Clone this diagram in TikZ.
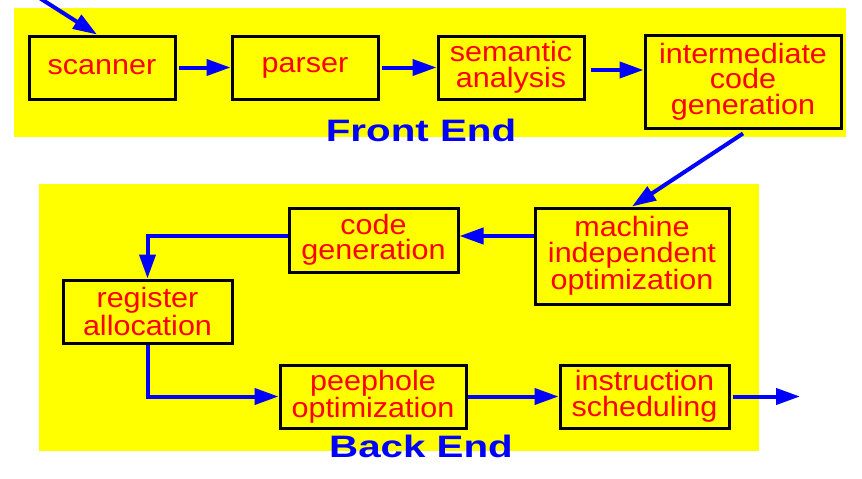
\documentclass[tikz,border=0pt]{standalone}
\usepackage{fontspec}
\setmainfont{Liberation Sans}
\newfontfamily\boxfont[FakeStretch=1.09]{Liberation Sans}
\newfontfamily\endfont[FakeStretch=1.3]{Liberation Sans}
\usetikzlibrary{arrows.meta}
\definecolor{ybg}{RGB}{255,255,0}
\definecolor{rtext}{RGB}{255,0,0}
\definecolor{barrow}{RGB}{0,0,255}
\tikzset{
  stagebox/.style={draw=black, line width=3pt, fill=ybg, text=rtext, align=center,
    inner sep=0pt, font=\boxfont\fontsize{28}{25.5}\selectfont},
  arr/.style={draw=barrow, line width=4pt, -{Triangle[length=24pt,width=16pt]}},
  endlabel/.style={text=barrow, anchor=base, inner sep=0pt, font=\endfont\bfseries\fontsize{31}{31}\selectfont},
  panel/.style={fill=ybg, draw=none}
}
\begin{document}
\begin{tikzpicture}[x=1pt,y=-1pt]
\useasboundingbox (0,0) rectangle (862,479);
% panels
\fill[panel] (14,8) rectangle (846,137);
\fill[panel] (39,184) rectangle (759,451);
% front end nodes
\node[stagebox, minimum width=146pt, minimum height=63pt] (scan) at (102,67.5) {scanner};
\node[stagebox, minimum width=146pt, minimum height=63pt] (parse) at (305,67.5) {parser};
\node[stagebox, minimum width=146pt, minimum height=63pt] (sem) at (511,67.5) {semantic\\analysis};
\node[stagebox, minimum width=196pt, minimum height=93pt] (inter) at (743,81.5) {intermediate\\code\\generation};
% back end nodes
\node[stagebox, minimum width=194pt, minimum height=96pt] (mach) at (632,256) {machine\\independent\\optimization};
\node[stagebox, minimum width=169pt, minimum height=64pt] (cg) at (373.5,240) {code\\generation};
\node[stagebox, minimum width=169pt, minimum height=63pt] (reg) at (147.5,311.5) {register\\allocation};
\node[stagebox, minimum width=186pt, minimum height=63pt] (peep) at (373,396.5) {peephole\\optimization};
\node[stagebox, minimum width=169pt, minimum height=63pt] (instr) at (644.5,396.5) {instruction\\scheduling};
% labels
\node[endlabel] (fe) at (421,141.5) {Front End};
\node[endlabel] (be) at (421,457.5) {Back End};
% connectors
\coordinate (in) at (38,-3);
\coordinate (out) at (800,396.5);
\draw[arr] (in) -- ([xshift=-5pt]scan.north);
\draw[arr] ([xshift=2pt]scan.east) -- (parse.west);
\draw[arr] ([xshift=2pt]parse.east) -- (sem.west);
\draw[arr] ([xshift=5pt,yshift=-2.5pt]sem.east) -- ([yshift=-2.5pt]sem.east -| inter.west);
\draw[arr] ([yshift=-4pt]inter.south) -- (mach.north);
\draw[arr] ([yshift=4pt]cg.east -| mach.west) -- ([yshift=4pt]cg.east);
\draw[arr] ([yshift=4pt]cg.west) -| (reg.north);
\draw[arr] (reg.south) |- (peep.west);
\draw[arr] (peep.east) -- (instr.west);
\draw[arr] ([xshift=2pt]instr.east) -- (out);
\end{tikzpicture}
\end{document}
